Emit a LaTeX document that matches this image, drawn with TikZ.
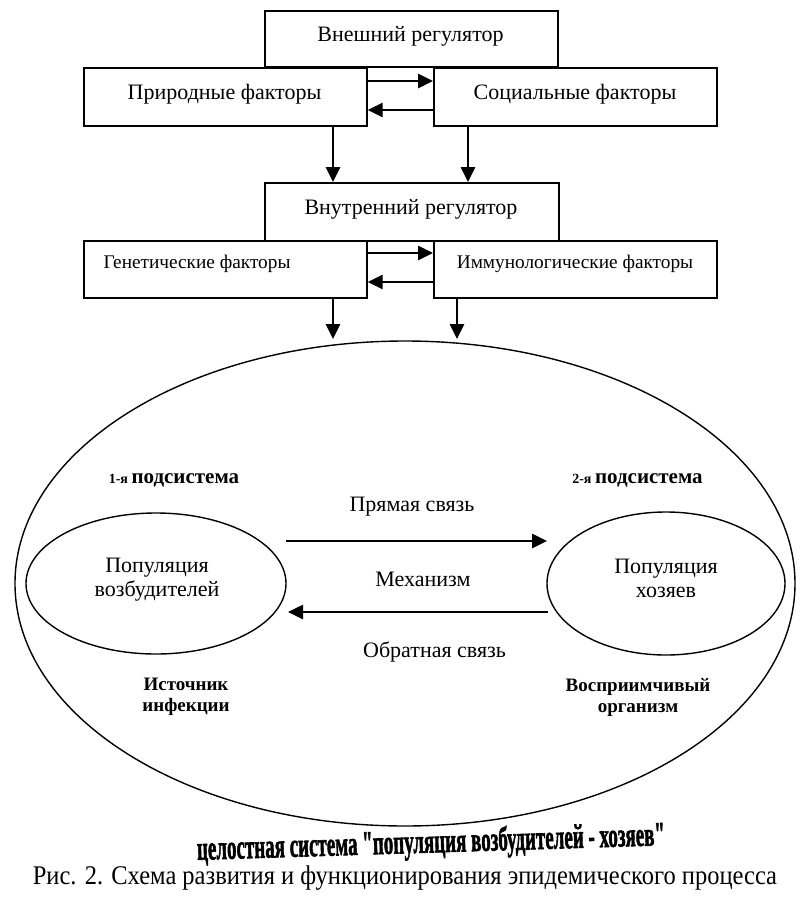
\documentclass[tikz,border=0pt]{standalone}
\usepackage{fontspec}
\setmainfont{Liberation Serif}
\newfontface\heavyface{Liberation Serif Bold}[FakeBold=2]
\usetikzlibrary{arrows.meta,shapes.geometric}
\begin{document}
\begin{tikzpicture}[x=1pt,y=-1pt,
  box/.style={draw,line width=1.6pt,anchor=north west,inner sep=0pt,fill=white},
  arr/.style={-{Triangle[length=15pt,width=14pt]},line width=2.6pt},
  lab/.style={font=\fontsize{22}{24}\selectfont,align=center,inner sep=0pt},
  slab/.style={font=\fontsize{19.3}{22}\selectfont,inner sep=0pt},
  blab/.style={font=\bfseries\fontsize{19}{21}\selectfont,align=center,inner sep=0pt},
  oval/.style={draw,ellipse,line width=1.4pt,inner sep=0pt}]
\useasboundingbox (0,0) rectangle (800,900);
% external regulator
\node[box,minimum width=293pt,minimum height=56pt] (ext) at (264,10) {};
\node[lab] (extt) at (410.5,36) {Внешний регулятор};
\node[box,minimum width=283pt,minimum height=58pt] (nat) at (83,67) {};
\node[lab] (natt) at (224.5,94) {Природные факторы};
\node[box,minimum width=283pt,minimum height=58pt] (soc) at (433,67) {};
\node[lab] (soct) at (575,94) {Социальные факторы};
\draw[arr] ([yshift=-14pt]nat.north east) -- ([yshift=-14pt]soc.north west);
\draw[arr] ([yshift=-43pt]soc.north west) -- ([yshift=-43pt]nat.north east);
% internal regulator
\node[box,minimum width=294pt,minimum height=58pt] (int) at (264,182) {};
\node[lab] (intt) at (411,209) {Внутренний регулятор};
\node[box,minimum width=283pt,minimum height=57pt] (gen) at (83,240) {};
\node[slab] (gent) at (197,264) {Генетические факторы};
\node[box,minimum width=283pt,minimum height=57pt] (imm) at (433,240) {};
\node[slab] (immt) at (575,264) {Иммунологические факторы};
\draw[arr] ([yshift=-13pt]gen.north east) -- ([yshift=-13pt]imm.north west);
\draw[arr] ([yshift=-42pt]imm.north west) -- ([yshift=-42pt]gen.north east);
\draw[arr] (nat.south -| 333,0) -- (int.north -| 333,0);
\draw[arr] (soc.south -| 468,0) -- (int.north -| 468,0);
% big ellipse
\node[oval,minimum width=780pt,minimum height=485pt] (big) at (405,583.5) {};
\coordinate (g1) at (333,339);
\coordinate (g2) at (457,339);
\draw[arr] (gen.south -| g1) -- (g1);
\draw[arr] (imm.south -| g2) -- (g2);
% small ellipses
\node[oval,minimum width=260pt,minimum height=141pt] (pv) at (156,583.5) {};
\node[lab] (pvt) at (157,580) {Популяция\\возбудителей};
\node[oval,minimum width=238pt,minimum height=143pt] (ph) at (666,583.5) {};
\node[lab] (pht) at (666,578) {Популяция\\хозяев};
\coordinate (a1) at (286,541);
\coordinate (a2) at (547,541);
\coordinate (b1) at (548,612);
\coordinate (b2) at (288,612);
\draw[arr] (a1) -- (a2);
\draw[arr] (b1) -- (b2);
\node[lab] (direct) at (412,507) {Прямая связь};
\node[lab] (mech) at (423,579) {Механизм};
\node[lab] (back) at (434.5,652) {Обратная связь};
\node[blab] (s1) at (174,480) {\fontsize{14}{16}\selectfont 1-я \fontsize{21}{22}\selectfont подсистема};
\node[blab] (s2) at (637.5,480) {\fontsize{14}{16}\selectfont 2-я \fontsize{21}{22}\selectfont подсистема};
\node[blab] (src) at (186,697) {Источник\\инфекции};
\node[blab] (sus) at (638,697) {Восприимчивый\\организм};
% captions
\node[font=\heavyface\fontsize{20}{24}\selectfont,rotate=1.8,xscale=0.95,yscale=1.7,inner sep=0pt] (whole) at (431,844) {целостная система "популяция возбудителей - хозяев"};
\node[font=\fontsize{24.5}{26}\selectfont,yscale=1.1,inner sep=0pt] (cap) at (405,878) {Рис. 2. Схема развития и функционирования эпидемического процесса};
\end{tikzpicture}
\end{document}
